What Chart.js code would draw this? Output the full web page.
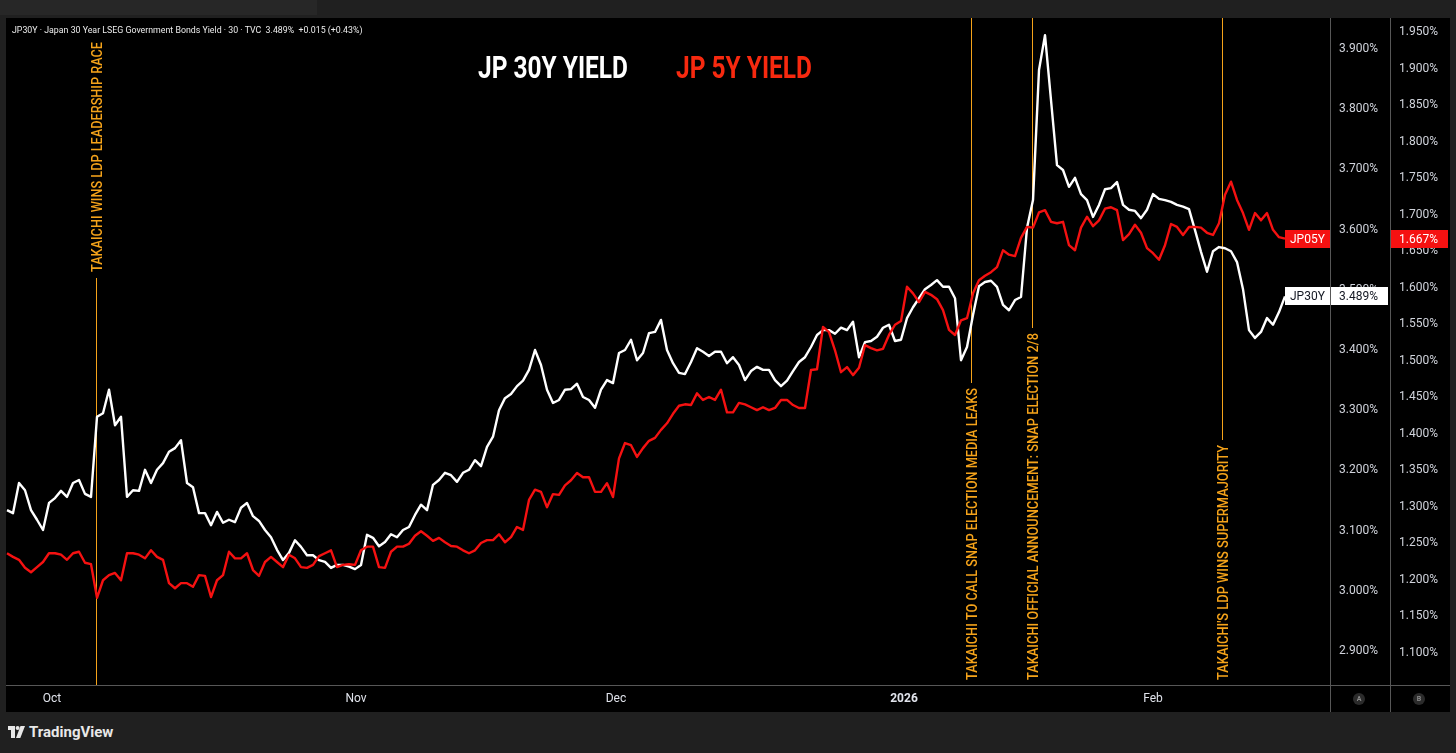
<!DOCTYPE html>
<html><head><meta charset="utf-8">
<script src="https://cdn.jsdelivr.net/npm/chart.js@4.4.1/dist/chart.umd.min.js"></script>
<style>
html,body{margin:0;padding:0;background:#202020;width:1456px;height:753px;overflow:hidden;font-family:Roboto,"Liberation Sans",sans-serif;}
#topbar{position:absolute;left:0;top:0;width:317px;height:15px;background:#272727;}
#wrap{position:absolute;left:6px;top:18px;width:1444px;height:694px;background:#000;}
#hdr{position:absolute;left:12px;top:24px;color:#ececec;font-size:9.5px;line-height:11px;white-space:nowrap;transform-origin:0 0;}
#logo{position:absolute;left:8px;top:723px;height:18px;display:flex;align-items:center;color:#e8e8e8;font-weight:bold;font-size:15px;}
#logo svg{margin-right:4px;}
</style></head>
<body>
<div id="topbar"></div>
<div id="wrap"><canvas id="c"></canvas></div>
<div id="hdr">JP30Y · Japan 30 Year LSEG Government Bonds Yield · 30 · TVC&nbsp;&nbsp;3.489%&nbsp;&nbsp;+0.015 (+0.43%)</div>
<div id="logo"><svg width="17" height="12" viewBox="0 0 17 12"><path d="M0 0H7V12H3V4H0Z" fill="#e8e8e8"/><circle cx="9.6" cy="2" r="2" fill="#e8e8e8"/><path d="M12.5 0H17L12.3 12H8Z" fill="#e8e8e8"/></svg>TradingView</div>
<script>
// ---- data (sampled bar index, ~0.43 trading day per step) ----
const jp30y = [
3.134,3.129,3.179,3.167,3.134,3.118,3.101,3.146,3.154,3.166,
3.156,3.179,3.184,3.161,3.156,3.289,3.295,3.334,3.275,3.289,
3.156,3.167,3.166,3.201,3.179,3.201,3.212,3.231,3.237,3.250,
3.179,3.172,3.129,3.129,3.109,3.131,3.113,3.118,3.114,3.138,
3.146,3.124,3.116,3.101,3.089,3.068,3.051,3.063,3.084,3.073,
3.059,3.059,3.051,3.048,3.038,3.043,3.043,3.040,3.036,3.043,
3.093,3.088,3.074,3.081,3.094,3.089,3.101,3.106,3.126,3.143,
3.134,3.176,3.184,3.196,3.192,3.181,3.196,3.201,3.217,3.207,
3.239,3.256,3.300,3.320,3.327,3.340,3.349,3.367,3.400,3.375,
3.334,3.312,3.317,3.334,3.335,3.344,3.322,3.317,3.304,3.334,
3.350,3.345,3.395,3.400,3.417,3.383,3.395,3.428,3.430,3.450,
3.400,3.378,3.362,3.360,3.380,3.403,3.397,3.390,3.397,3.397,
3.378,3.388,3.375,3.350,3.365,3.372,3.367,3.367,3.350,3.340,
3.349,3.365,3.380,3.388,3.405,3.425,3.433,3.433,3.427,3.437,
3.433,3.447,3.388,3.413,3.415,3.422,3.437,3.442,3.415,3.417,
3.453,3.471,3.486,3.501,3.508,3.516,3.505,3.505,3.486,3.383,
3.405,3.458,3.506,3.513,3.515,3.505,3.475,3.466,3.483,3.488,
3.603,3.649,3.865,3.923,3.815,3.707,3.699,3.671,3.686,3.659,
3.649,3.621,3.641,3.667,3.669,3.679,3.641,3.633,3.631,3.619,
3.633,3.659,3.651,3.649,3.646,3.641,3.638,3.634,3.599,3.563,
3.530,3.564,3.571,3.569,3.564,3.546,3.501,3.433,3.420,3.430,
3.453,3.442,3.463,3.489];
const jp05y = [
1.236,1.231,1.227,1.216,1.210,1.217,1.224,1.236,1.236,1.234,
1.227,1.236,1.238,1.223,1.221,1.175,1.199,1.206,1.209,1.199,
1.236,1.236,1.234,1.229,1.240,1.231,1.227,1.195,1.188,1.195,
1.195,1.190,1.206,1.205,1.176,1.199,1.206,1.238,1.229,1.229,
1.236,1.213,1.205,1.224,1.231,1.224,1.217,1.234,1.229,1.217,
1.216,1.220,1.232,1.236,1.240,1.217,1.220,1.221,1.220,1.240,
1.245,1.245,1.217,1.216,1.238,1.245,1.245,1.249,1.260,1.266,
1.260,1.253,1.257,1.251,1.246,1.245,1.240,1.236,1.240,1.250,
1.254,1.254,1.262,1.251,1.258,1.272,1.268,1.309,1.323,1.320,
1.299,1.317,1.316,1.329,1.336,1.346,1.340,1.340,1.320,1.320,
1.332,1.313,1.366,1.387,1.384,1.368,1.380,1.390,1.394,1.405,
1.414,1.427,1.438,1.440,1.439,1.455,1.446,1.450,1.446,1.460,
1.429,1.429,1.442,1.440,1.436,1.432,1.436,1.432,1.435,1.446,
1.446,1.439,1.435,1.435,1.487,1.488,1.546,1.539,1.514,1.484,
1.491,1.480,1.490,1.521,1.517,1.514,1.516,1.535,1.549,1.554,
1.601,1.592,1.580,1.594,1.590,1.584,1.569,1.542,1.535,1.555,
1.558,1.592,1.610,1.616,1.621,1.628,1.651,1.645,1.643,1.668,
1.683,1.682,1.703,1.706,1.690,1.688,1.690,1.658,1.651,1.682,
1.697,1.684,1.692,1.708,1.710,1.706,1.665,1.673,1.686,1.675,
1.654,1.647,1.638,1.658,1.687,1.683,1.672,1.683,1.683,1.682,
1.675,1.672,1.688,1.727,1.745,1.720,1.702,1.679,1.702,1.692,
1.702,1.679,1.669,1.667];
const ticksA = [2.9,3.0,3.1,3.2,3.3,3.4,3.5,3.6,3.7,3.8,3.9];
const ticksB = [1.10,1.15,1.20,1.25,1.30,1.35,1.40,1.45,1.50,1.55,1.60,1.65,1.70,1.75,1.80,1.85,1.90,1.95];
const monthPos = [7.5, 58.17, 101.5, 149.5, 191.0];
const monthLabels = ['Oct','Nov','Dec','2026','Feb'];
const annoAt = [14.83, 160.67, 170.83, 202.5];
const annoText = ['TAKAICHI WINS LDP LEADERSHIP RACE','TAKAICHI TO CALL SNAP ELECTION MEDIA LEAKS','TAKAICHI OFFICIAL ANNOUNCEMENT: SNAP ELECTION 2/8',"TAKAICHI'S LDP WINS SUPERMAJORITY"];

// ---- layout / style (canvas coords) ----
const ORANGE = '#f5a31a';
const RED = '#f51111';
const annoLayout = [
  {textBottom:254, len:230, line:[260,667]},
  {textBottom:662, len:292, line:[0,365]},
  {textBottom:662, len:347, line:[0,310]},
  {textBottom:662, len:235, line:[0,422]}
];
const FONT = 'Roboto, "Liberation Sans", sans-serif';

function drawScaledText(ctx, text, x, y, width, font){
  ctx.font = font;
  const w = ctx.measureText(text).width;
  ctx.save(); ctx.translate(x, y); ctx.scale(width / w, 1);
  ctx.fillText(text, 0, 0); ctx.restore();
}
function noPad(s){ s.paddingTop = 0; s.paddingBottom = 0; s.paddingLeft = 0; s.paddingRight = 0; }

const overlay = {
  id:'overlay',
  beforeDatasetsDraw(chart){
    const {ctx, scales:{x}} = chart;
    ctx.save();
    annoAt.forEach((v,i)=>{
      const px = Math.round(x.getPixelForValue(v)) + 0.5;
      const L = annoLayout[i];
      ctx.strokeStyle = ORANGE; ctx.lineWidth = 1;
      ctx.beginPath(); ctx.moveTo(px, L.line[0]); ctx.lineTo(px, L.line[1]); ctx.stroke();
      ctx.save();
      ctx.translate(px, L.textBottom); ctx.rotate(-Math.PI/2);
      ctx.font = '500 14px ' + FONT;
      const w = ctx.measureText(annoText[i]).width;
      ctx.scale(L.len / w, 1);
      ctx.fillStyle = ORANGE; ctx.textBaseline = 'alphabetic';
      ctx.fillText(annoText[i], 0, 5);
      ctx.restore();
    });
    // title
    ctx.textBaseline = 'alphabetic';
    ctx.fillStyle = '#ffffff';
    drawScaledText(ctx, 'JP 30Y YIELD', 472, 60, 150, 'bold 32px ' + FONT);
    ctx.fillStyle = '#f7290f';
    drawScaledText(ctx, 'JP 5Y YIELD', 670, 60, 136, 'bold 32px ' + FONT);
    ctx.restore();
  },
  afterDraw(chart){
    const {ctx, chartArea:ca, scales:{yA, yB}} = chart;
    ctx.save();
    // separators
    ctx.strokeStyle = '#575757'; ctx.lineWidth = 1;
    ctx.beginPath();
    ctx.moveTo(0, Math.round(ca.bottom)+0.5); ctx.lineTo(1444, Math.round(ca.bottom)+0.5);
    ctx.moveTo(Math.round(yA.left)+0.5, 0); ctx.lineTo(Math.round(yA.left)+0.5, 694);
    ctx.moveTo(Math.round(yB.left)+0.5, 0); ctx.lineTo(Math.round(yB.left)+0.5, 694);
    ctx.stroke();
    // A / B badges
    [[yA, 'A'], [yB, 'B']].forEach(([s, t])=>{
      const cx = (s.left + s.right)/2 - 1, cy = ca.bottom + 14;
      ctx.fillStyle = '#2b2b2b';
      ctx.beginPath(); ctx.arc(cx, cy, 6, 0, Math.PI*2); ctx.fill();
      ctx.fillStyle = '#8a8a8a'; ctx.font = 'bold 7px ' + FONT;
      ctx.textAlign = 'center'; ctx.textBaseline = 'middle';
      ctx.fillText(t, cx, cy + 0.5);
    });
    // last value labels
    ctx.textAlign = 'left'; ctx.textBaseline = 'middle';
    ctx.font = '12px ' + FONT;
    const lastR = jp05y[jp05y.length-1], lastW = jp30y[jp30y.length-1];
    const yr = Math.round(yB.getPixelForValue(lastR));
    const yw = Math.round(yA.getPixelForValue(lastW));
    const boxL = ca.right - 45;
    ctx.fillStyle = RED;
    ctx.fillRect(boxL, yr - 9, 45, 18);
    ctx.fillRect(yB.left + 1, yr - 9, 57, 18);
    ctx.fillStyle = '#ffffff';
    ctx.fillText('JP05Y', boxL + 5, yr + 0.5);
    ctx.fillText(lastR.toFixed(3) + '%', yB.left + 9, yr + 0.5);
    ctx.fillStyle = '#ffffff';
    ctx.fillRect(boxL, yw - 9, 45, 18);
    ctx.fillRect(yA.left + 1, yw - 9, 57, 18);
    ctx.fillStyle = '#131722';
    ctx.fillText('JP30Y', boxL + 5, yw + 0.5);
    ctx.fillText(lastW.toFixed(3) + '%', yA.left + 9, yw + 0.5);
    ctx.restore();
  }
};

const tickColor = '#d1d4dc';
new Chart(document.getElementById('c'), {
  type:'line',
  data:{datasets:[
    {label:'JP05Y', yAxisID:'yB', data: jp05y.map((v,i)=>({x:i,y:v})), borderColor:RED, borderWidth:2.4, pointRadius:0, tension:0, borderJoinStyle:'round'},
    {label:'JP30Y', yAxisID:'yA', data: jp30y.map((v,i)=>({x:i,y:v})), borderColor:'#ffffff', borderWidth:2.4, pointRadius:0, tension:0, borderJoinStyle:'round'}
  ]},
  options:{
    animation:false, responsive:true, maintainAspectRatio:false,
    layout:{padding:0},
    events:[],
    plugins:{legend:{display:false}, tooltip:{enabled:false}},
    scales:{
      x:{type:'linear', min:-0.167, max:220.5,
        grid:{display:false, drawTicks:false}, border:{display:false},
        afterBuildTicks:s=>{s.ticks = monthPos.map(v=>({value:v}));},
        afterFit:s=>{s.height = 27; noPad(s);},
        ticks:{color:'#e0e3eb', padding:7, maxRotation:0, autoSkip:false,
          font:(c)=>({family:FONT, size:12, weight: c.index===3 ? 'bold' : 'normal'}),
          callback:(v,i)=>monthLabels[i]}},
      yA:{type:'linear', position:'right', weight:0, min:2.8435, max:3.9515,
        grid:{display:false, drawTicks:false}, border:{display:false},
        afterBuildTicks:s=>{s.ticks = ticksA.map(v=>({value:v}));},
        afterFit:s=>{s.width = 60; noPad(s);},
        ticks:{color:tickColor, padding:9, autoSkip:false, font:{family:FONT, size:12}, callback:v=>Number(v).toFixed(3)+'%'}},
      yB:{type:'linear', position:'right', weight:1, min:1.0555, max:1.9692,
        grid:{display:false, drawTicks:false}, border:{display:false},
        afterBuildTicks:s=>{s.ticks = ticksB.map(v=>({value:v}));},
        afterFit:s=>{s.width = 60; noPad(s);},
        ticks:{color:tickColor, padding:9, autoSkip:false, font:{family:FONT, size:12}, callback:v=>Number(v).toFixed(3)+'%'}}
    }
  },
  plugins:[overlay]
});

// fit header width
const hdr = document.getElementById('hdr');
hdr.style.transform = 'scaleX(' + (350 / hdr.offsetWidth) + ')';
</script>
</body></html>
